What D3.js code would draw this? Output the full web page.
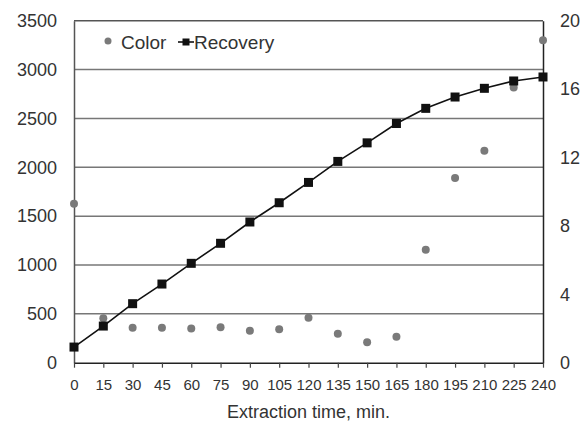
<!DOCTYPE html>
<html>
<head>
<meta charset="utf-8">
<script src="https://cdn.jsdelivr.net/npm/d3@7"></script>
<style>
  body { margin: 0; background: #fff; }
  text { font-family: "Liberation Sans", Arial, sans-serif; fill: #333; }
</style>
</head>
<body>
<script>
// extraction times (min)
const times = [0, 15, 30, 45, 60, 75, 90, 105, 120, 135, 150, 165, 180, 195, 210, 225, 240];
// recovery, left axis
const recovery = [160, 375, 604, 805, 1017, 1222, 1440, 1637, 1845, 2060, 2250, 2448, 2603, 2719, 2808, 2883, 2924];
// color, right axis
const color = [9.3, 2.6, 2.05, 2.05, 2.0, 2.07, 1.87, 1.95, 2.63, 1.7, 1.19, 1.52, 6.6, 10.8, 12.4, 16.1, 18.85];

const leftTicks = [0, 500, 1000, 1500, 2000, 2500, 3000, 3500];
const rightTicks = [0, 4, 8, 12, 16, 20];

const width = 583, height = 421;
const margin = {top: 20.7, right: 40, bottom: 58.3, left: 74};

const svg = d3.select("body").append("svg")
  .attr("width", width)
  .attr("height", height);

const x = d3.scaleLinear().domain([0, 240]).range([margin.left, width - margin.right]);
const yL = d3.scaleLinear().domain([0, 3500]).range([height - margin.bottom, margin.top]);
const yR = d3.scaleLinear().domain([0, 20]).range([height - margin.bottom, margin.top]);

// gridlines
svg.append("g")
  .selectAll("line")
  .data(leftTicks.filter(d => d > 0))
  .join("line")
  .attr("x1", margin.left).attr("x2", width - margin.right)
  .attr("y1", d => yL(d)).attr("y2", d => yL(d))
  .attr("stroke", d => d === 3500 ? "#555" : "#777")
  .attr("stroke-width", 1.5);

// left axis
const gl = svg.append("g")
  .attr("transform", `translate(${margin.left},0)`)
  .call(d3.axisLeft(yL).tickValues(leftTicks).tickFormat(d3.format("d")).tickSize(0).tickPadding(17));
gl.select(".domain").attr("stroke", "#555").attr("stroke-width", 1.5);
gl.selectAll("text").style("font-size", "18px").attr("fill", "#333");

// right axis
const gr = svg.append("g")
  .attr("transform", `translate(${width - margin.right},0)`)
  .call(d3.axisRight(yR).tickValues(rightTicks).tickFormat(d3.format("d")).tickSize(0).tickPadding(17));
gr.select(".domain").attr("stroke", "#222").attr("stroke-width", 1.5);
gr.selectAll("text").style("font-size", "18px").attr("fill", "#333");

// bottom axis
const gb = svg.append("g")
  .attr("transform", `translate(0,${height - margin.bottom})`)
  .call(d3.axisBottom(x).tickValues(times).tickFormat(d3.format("d")).tickSize(5).tickPadding(12).tickSizeOuter(0));
gb.select(".domain").attr("stroke", "#222").attr("stroke-width", 1.5);
gb.selectAll(".tick line").attr("stroke", "#444").attr("stroke-width", 1.2);
gb.selectAll("text").style("font-size", "15px").attr("fill", "#333");

// axis title
svg.append("text")
  .attr("x", (margin.left + width - margin.right) / 2)
  .attr("y", 418)
  .attr("text-anchor", "middle")
  .style("font-size", "18px")
  .text("Extraction time, min.");

// color points
svg.append("g")
  .selectAll("circle")
  .data(times)
  .join("circle")
  .attr("cx", d => x(d))
  .attr("cy", (d, i) => yR(color[i]))
  .attr("r", 4)
  .attr("fill", "#7a7a7a");

// recovery line
const line = d3.line()
  .x(d => x(d))
  .y((d, i) => yL(recovery[i]));

svg.append("path")
  .datum(times)
  .attr("d", line)
  .attr("fill", "none")
  .attr("stroke", "#111")
  .attr("stroke-width", 1.6);

svg.append("g")
  .selectAll("rect")
  .data(times)
  .join("rect")
  .attr("x", d => x(d) - 4.5)
  .attr("y", (d, i) => yL(recovery[i]) - 4.5)
  .attr("width", 9).attr("height", 9)
  .attr("fill", "#111");

// legend
const lg = svg.append("g");
lg.append("circle").attr("cx", 108).attr("cy", 41).attr("r", 3.5).attr("fill", "#7a7a7a");
lg.append("text").attr("x", 121).attr("y", 49).style("font-size", "19px").text("Color");
lg.append("line").attr("x1", 178).attr("x2", 194).attr("y1", 42).attr("y2", 42)
  .attr("stroke", "#111").attr("stroke-width", 1.6);
lg.append("rect").attr("x", 182.5).attr("y", 38.5).attr("width", 7).attr("height", 7).attr("fill", "#111");
lg.append("text").attr("x", 194).attr("y", 49).style("font-size", "19px").text("Recovery");
</script>
</body>
</html>
